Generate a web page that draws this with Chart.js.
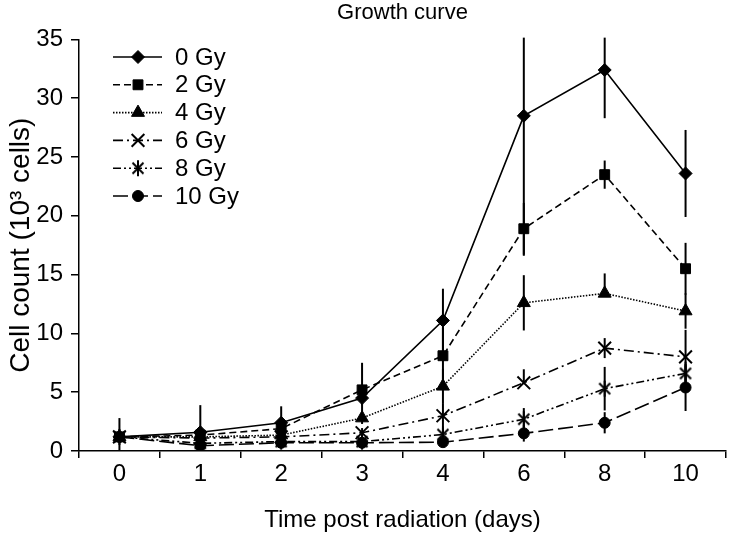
<!DOCTYPE html>
<html>
<head>
<meta charset="utf-8">
<script src="https://cdn.jsdelivr.net/npm/chart.js@4/dist/chart.umd.min.js"></script>
<style>
  html, body { margin: 0; padding: 0; background: #fff; }
  canvas { display: block; }
</style>
</head>
<body>
<canvas id="c" width="737" height="538"></canvas>
<script>
// ---- data ----
const days = ['0', '1', '2', '3', '4', '6', '8', '10'];
const seriesNames = ['0 Gy', '2 Gy', '4 Gy', '6 Gy', '8 Gy', '10 Gy'];

const gy0  = [1.2, 1.6, 2.4, 4.5, 11.1, 28.5, 32.4, 23.6];
const gy2  = [1.2, 1.35, 1.9, 5.2, 8.1, 18.9, 23.5, 15.5];
const gy4  = [1.2, 1.2, 1.35, 2.8, 5.5, 12.6, 13.4, 11.9];
const gy6  = [1.2, 1.1, 1.2, 1.55, 3.0, 5.8, 8.75, 8.0];
const gy8  = [1.2, 0.65, 0.8, 0.8, 1.4, 2.7, 5.3, 6.6];
const gy10 = [1.2, 0.45, 0.7, 0.7, 0.75, 1.5, 2.4, 5.4];

// error bars (upper / lower extents)
const gy0Up   = [1.6, 2.3, 1.4, 0.6, 2.7, 11.9, 4.1, 3.7];
const gy0Down = [1.6, 2.3, 1.4, 0.6, 2.7, 11.9, 4.1, 3.7];
const gy2Up   = [0.3, 0.4, 0.5, 2.3, 2.4, 2.2, 1.2, 2.2];
const gy2Down = [0.3, 0.4, 0.5, 2.3, 2.4, 2.2, 1.2, 2.2];
const gy4Up   = [0.2, 0.3, 0.3, 0.5, 1.5, 2.35, 1.7, 1.5];
const gy4Down = [0.2, 0.3, 0.3, 0.5, 1.5, 2.35, 0, 1.5];
const gy6Up   = [0.2, 0.2, 0.3, 0.4, 1.0, 1.15, 0.85, 2.3];
const gy6Down = [0.2, 0.2, 0.3, 0.4, 1.0, 0, 0.85, 2.3];
const gy8Up   = [0.2, 0.2, 0.2, 0.3, 0.6, 0.95, 1.85, 1.0];
const gy8Down = [0.2, 0.2, 0.2, 0.3, 0.6, 0.95, 1.85, 1.0];
const gy10Up  = [0.2, 0.2, 0.2, 0.2, 0.3, 0.7, 0.9, 2.0];
const gy10Down= [0.2, 0.2, 0.2, 0.2, 0.3, 0.7, 0.9, 2.0];

const yTicksMax = 35;
const yTicksStep = 5;

// ---- styling ----
const FONT = "'Liberation Sans', Arial, Helvetica, sans-serif";
Chart.defaults.font.family = FONT;
Chart.defaults.color = '#000';

// asterisk marker (X with vertical stroke) for 8 Gy
function makeAsterisk() {
  const c = document.createElement('canvas');
  c.width = 16; c.height = 18;
  const g = c.getContext('2d');
  g.strokeStyle = '#000';
  g.lineWidth = 2;
  g.beginPath();
  g.moveTo(8, 1); g.lineTo(8, 17);
  g.moveTo(2.5, 3.5); g.lineTo(13.5, 14.5);
  g.moveTo(13.5, 3.5); g.lineTo(2.5, 14.5);
  g.stroke();
  return c;
}
const asterisk = makeAsterisk();

const values = [gy0, gy2, gy4, gy6, gy8, gy10];
const ups = [gy0Up, gy2Up, gy4Up, gy6Up, gy8Up, gy10Up];
const downs = [gy0Down, gy2Down, gy4Down, gy6Down, gy8Down, gy10Down];
const styles = [
  { dash: [], point: 'rectRot', r: 6.5, bw: 1 },
  { dash: [7, 4], point: 'rect', r: 7, bw: 1 },
  { dash: [1.5, 1.5], point: 'triangle', r: 7.5, bw: 1 },
  { dash: [10, 4, 2, 4], point: 'crossRot', r: 9, bw: 2 },
  { dash: [8, 3, 2, 3, 2, 3], point: asterisk, r: 8, bw: 1 },
  { dash: [15, 5], point: 'circle', r: 5.5, bw: 1 }
];

const datasets = seriesNames.map((name, i) => ({
  label: name,
  data: values[i],
  borderColor: '#000',
  backgroundColor: '#000',
  borderWidth: 1.6,
  borderDash: styles[i].dash,
  pointStyle: styles[i].point,
  pointRadius: styles[i].r,
  pointHoverRadius: styles[i].r,
  pointBorderWidth: styles[i].bw,
  pointBackgroundColor: '#000',
  pointBorderColor: '#000',
  tension: 0,
  fill: false
}));

const errorBars = {
  id: 'errorBars',
  beforeDatasetsDraw(chart) {
    const { ctx, scales: { x, y } } = chart;
    ctx.save();
    ctx.strokeStyle = '#000';
    ctx.lineWidth = 2;
    ctx.setLineDash([]);
    values.forEach((vals, i) => {
      vals.forEach((v, j) => {
        const px = x.getPixelForValue(j);
        const top = y.getPixelForValue(Math.min(yTicksMax + 0.15, v + ups[i][j]));
        const bot = y.getPixelForValue(Math.max(0, v - downs[i][j]));
        ctx.beginPath();
        ctx.moveTo(px, top);
        ctx.lineTo(px, bot);
        ctx.stroke();
      });
    });
    ctx.restore();
  }
};

function drawMarker(ctx, style, r, bw, x, y) {
  if (Chart.helpers && Chart.helpers.drawPoint) {
    ctx.fillStyle = '#000';
    ctx.strokeStyle = '#000';
    ctx.lineWidth = bw;
    Chart.helpers.drawPoint(ctx, { pointStyle: style, radius: r, rotation: 0, borderWidth: bw }, x, y);
  } else if (style instanceof HTMLCanvasElement) {
    ctx.drawImage(style, x - style.width / 2, y - style.height / 2);
  }
}

const innerLegend = {
  id: 'innerLegend',
  afterDatasetsDraw(chart) {
    const { ctx } = chart;
    const x0 = 113, x1 = 162, xm = 138, xt = 175;
    const y0 = 57, dy = 27.8;
    ctx.save();
    chart.data.datasets.forEach((ds, i) => {
      const yy = y0 + i * dy;
      ctx.strokeStyle = '#000';
      ctx.lineWidth = 1.6;
      ctx.setLineDash(ds.borderDash || []);
      ctx.beginPath();
      ctx.moveTo(x0, yy);
      ctx.lineTo(x1, yy);
      ctx.stroke();
      ctx.setLineDash([]);
      drawMarker(ctx, ds.pointStyle, ds.pointRadius, ds.pointBorderWidth, xm, yy);
      ctx.fillStyle = '#000';
      ctx.font = '24px ' + FONT;
      ctx.textAlign = 'left';
      ctx.textBaseline = 'middle';
      ctx.fillText(ds.label, xt, yy + 1);
    });
    ctx.restore();
  }
};

new Chart(document.getElementById('c'), {
  type: 'line',
  data: { labels: days, datasets },
  plugins: [errorBars, innerLegend],
  options: {
    responsive: false,
    animation: false,
    layout: { padding: { left: 0, right: 9, top: 0, bottom: 0 } },
    plugins: {
      legend: { display: false },
      tooltip: { enabled: false },
      title: {
        display: true,
        fullSize: false,
        text: 'Growth curve',
        color: '#000',
        font: { size: 22, weight: 'normal', family: FONT },
        padding: { top: 0, bottom: 13 }
      }
    },
    scales: {
      x: {
        type: 'category',
        offset: true,
        grid: { offset: true, drawOnChartArea: false, drawTicks: true, tickLength: 7, color: '#000', lineWidth: 1.5 },
        border: { color: '#000', width: 1.5 },
        ticks: { color: '#000', font: { size: 24, family: FONT }, padding: 2, maxRotation: 0 },
        title: {
          display: true, text: 'Time post radiation (days)', color: '#000',
          font: { size: 24, family: FONT }, padding: { top: 0, bottom: 3 }
        },
        afterFit(s) { s.height = 87; }
      },
      y: {
        min: 0, max: yTicksMax,
        grid: { drawOnChartArea: false, drawTicks: true, tickLength: 8, color: '#000', lineWidth: 1.5 },
        border: { color: '#000', width: 1.5 },
        ticks: { stepSize: yTicksStep, color: '#000', font: { size: 24, family: FONT }, padding: 8 },
        title: {
          display: true, text: 'Cell count (10\u00B3 cells)', color: '#000',
          font: { size: 28, family: FONT }, padding: { top: 4, bottom: 0 }
        },
        afterFit(s) { s.width = 79; }
      }
    }
  }
});
</script>
</body>
</html>
